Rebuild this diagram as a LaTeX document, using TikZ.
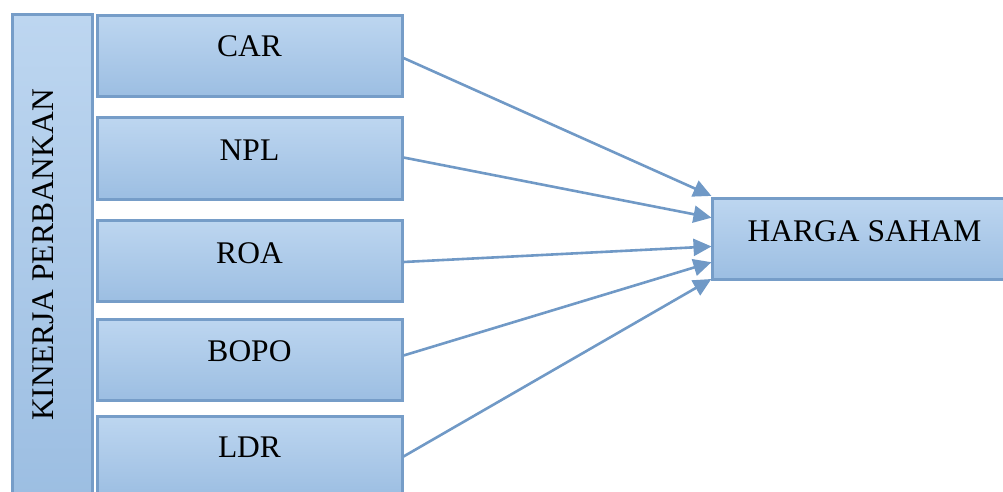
\documentclass[tikz,border=0pt]{standalone}
\usepackage{fontspec}
\setmainfont{Liberation Serif}
\usetikzlibrary{arrows.meta,calc}
\definecolor{boxtop}{HTML}{BDD6F0}
\definecolor{boxbot}{HTML}{9CBEE2}
\definecolor{boxedge}{HTML}{769DC8}
\definecolor{arrowc}{HTML}{7099C6}
\tikzset{
  varbox/.style={draw=boxedge, line width=3pt, top color=boxtop, bottom color=boxbot, minimum width=305pt, minimum height=81pt, inner sep=0pt},
  lbl/.style={font=\fontsize{31.5}{36}\selectfont, anchor=base, inner sep=0pt},
  conn/.style={draw=arrowc, line width=2.6pt, -{Triangle[length=18pt,width=17pt]}, shorten >=-1pt}
}
\begin{document}
\begin{tikzpicture}[x=1pt,y=-1pt]
\useasboundingbox (0,0) rectangle (1003,492);
\clip (0,0) rectangle (1003,492);
\node[varbox, minimum width=80pt, minimum height=484pt] (K) at (52,257) {};
\node[lbl, rotate=90] (Kt) at (53.5,255) {KINERJA PERBANKAN};
\node[varbox] (CAR) at (249.5,56) {};
\node[varbox] (NPL) at (249.5,158.5) {};
\node[varbox] (ROA) at (249.5,261) {};
\node[varbox] (BOPO) at (249.5,359.5) {};
\node[varbox] (LDR) at (249.5,456.5) {};
\node[varbox, minimum width=310pt] (H) at (867,238.5) {};
\node[lbl] (CARt) at (249.5,57) {CAR};
\node[lbl] (NPLt) at (249.5,160) {NPL};
\node[lbl] (ROAt) at (249.5,263) {ROA};
\node[lbl] (BOPOt) at (249.5,361) {BOPO};
\node[lbl] (LDRt) at (249.5,457) {LDR};
\node[lbl] (Ht) at (864.5,241) {HARGA SAHAM};
\coordinate (h1) at ([yshift=1pt]H.north west);
\coordinate (h2) at ([yshift=-21pt]H.north west);
\coordinate (h3) at ([yshift=-50pt]H.north west);
\coordinate (h4) at ([yshift=-66pt]H.north west);
\coordinate (h5) at ([yshift=-83pt]H.north west);
\draw[conn] ([yshift=-2pt]CAR.east) -- (h1);
\draw[conn] ([yshift=1pt]NPL.east) -- (h2);
\draw[conn] ([yshift=-1pt]ROA.east) -- (h3);
\draw[conn] ([yshift=4pt]BOPO.east) -- (h4);
\draw[conn] (LDR.east) -- (h5);
\end{tikzpicture}
\end{document}
